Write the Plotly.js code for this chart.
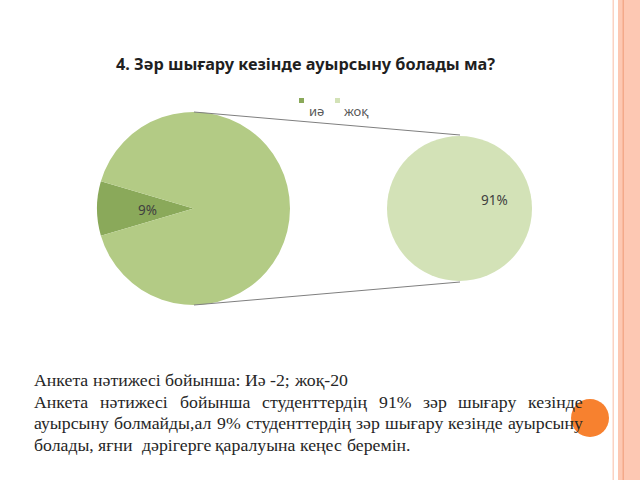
<!DOCTYPE html>
<html>
<head>
<meta charset="utf-8">
<script src="https://cdn.plot.ly/plotly-3.0.1.min.js"></script>
<style>
  html, body { margin: 0; padding: 0; background: #ffffff; }
  #chart { width: 640px; height: 480px; }
</style>
</head>
<body>
<div id="chart"></div>
<script>
// ---- data ----
const categories = ['иә', 'жоқ'];
const counts = [2, 20];
const titleText = '4. Зәр шығару кезінде ауырсыну болады ма?';
const paragraphLines = [
  'Анкета нәтижесі бойынша: Иә -2; жоқ-20',
  'Анкета нәтижесі бойынша студенттердің 91% зәр шығару кезінде',
  'ауырсыну болмайды,ал 9% студенттердің зәр шығару кезінде ауырсыну',
  'болады, яғни  дәрігерге қаралуына кеңес беремін.'
];
const justified = [false, true, true, false];

// ---- styling ----
const colYes = '#8aa95a';
const colNoBig = '#b3cb85';
const colNoSmall = '#d3e2b7';
const W = 640, H = 480;
const px = v => v / W;
const py = v => 1 - v / H;

const total = counts.reduce((a, b) => a + b, 0);
const pct = counts.map(c => Math.round(100 * c / total) + '%');
const yesAngle = 360 * counts[0] / total;

const bigPie = {
  type: 'pie',
  values: counts,
  labels: categories,
  sort: false,
  direction: 'clockwise',
  rotation: 270 - yesAngle / 2,
  marker: { colors: [colYes, colNoBig], line: { width: 0 } },
  textinfo: 'none',
  hoverinfo: 'label+percent',
  showlegend: false,
  domain: { x: [px(97), px(290)], y: [py(305), py(112)] }
};
const smallPie = {
  type: 'pie',
  values: [counts[1]],
  labels: [categories[1]],
  sort: false,
  marker: { colors: [colNoSmall], line: { width: 0 } },
  textinfo: 'none',
  hoverinfo: 'label',
  showlegend: false,
  domain: { x: [px(387), px(532)], y: [py(282), py(135)] }
};

// measure text for paragraph layout
const cv = document.createElement('canvas');
const ctx = cv.getContext('2d');
const paraFamily = "'Liberation Serif', 'Times New Roman', serif";
let paraSize = 16.5;
ctx.font = paraSize + 'px ' + paraFamily;
const l1w = ctx.measureText(paragraphLines[0]).width;
paraSize = Math.max(14, Math.min(18, paraSize * 313 / l1w));
ctx.font = paraSize + 'px ' + paraFamily;
const spaceW = ctx.measureText(' ').width;

const annotations = [];
const left = 32, right = 581;
const lineY = [380, 402, 423, 445];
paragraphLines.forEach((line, i) => {
  const words = line.split(' ');
  const widths = words.map(w => ctx.measureText(w).width);
  let gap = spaceW;
  if (justified[i]) {
    const sum = widths.reduce((a, b) => a + b, 0);
    gap = (right - left - sum) / (words.length - 1);
  }
  let x = left;
  words.forEach((w, k) => {
    if (w.length) {
      annotations.push({
        xref: 'x', yref: 'y', x: x, y: lineY[i], text: w, showarrow: false,
        xanchor: 'left', yanchor: 'middle',
        font: { family: paraFamily, size: paraSize, color: '#262626' }
      });
    }
    x += widths[k] + gap;
  });
});

// title
annotations.push({
  xref: 'x', yref: 'y', x: 305, y: 64, text: '<b>' + titleText + '</b>', showarrow: false,
  xanchor: 'center', yanchor: 'middle',
  font: { family: "'Noto Sans', sans-serif", size: 16.3, color: '#1f1f1f' }
});
// pie labels
annotations.push({
  xref: 'x', yref: 'y', x: 147, y: 210, text: pct[0], showarrow: false,
  font: { family: "'Noto Sans', sans-serif", size: 13.5, color: '#404040' }
});
annotations.push({
  xref: 'x', yref: 'y', x: 494, y: 200, text: pct[1], showarrow: false,
  font: { family: "'Noto Sans', sans-serif", size: 13.5, color: '#404040' }
});
// legend texts
annotations.push({
  xref: 'x', yref: 'y', x: 307, y: 111, text: categories[0], showarrow: false,
  xanchor: 'left', yanchor: 'middle',
  font: { family: "'Noto Sans', sans-serif", size: 13, color: '#595959' }
});
annotations.push({
  xref: 'x', yref: 'y', x: 342, y: 111, text: categories[1], showarrow: false,
  xanchor: 'left', yanchor: 'middle',
  font: { family: "'Noto Sans', sans-serif", size: 13, color: '#595959' }
});

const shapes = [
  // legend swatches
  { type: 'rect', xref: 'x', yref: 'y', x0: 299, x1: 304, y0: 98, y1: 103, fillcolor: colYes, line: { width: 0 } },
  { type: 'rect', xref: 'x', yref: 'y', x0: 335, x1: 340, y0: 98, y1: 103, fillcolor: colNoSmall, line: { width: 0 } },
  // connector lines
  { type: 'line', xref: 'x', yref: 'y', x0: 194, y0: 112, x1: 460, y1: 135, line: { color: '#7f7f7f', width: 1 } },
  { type: 'line', xref: 'x', yref: 'y', x0: 194, y0: 305, x1: 460, y1: 282, line: { color: '#7f7f7f', width: 1 } },
  // slide decoration: right stripes
  { type: 'rect', xref: 'x', yref: 'y', x0: 612.5, x1: 614, y0: 0, y1: 480, fillcolor: '#fbd2c2', line: { width: 0 }, layer: 'below' },
  { type: 'rect', xref: 'x', yref: 'y', x0: 618, x1: 640, y0: 0, y1: 480, fillcolor: '#fdc8b3', line: { width: 0 }, layer: 'below' },
  { type: 'rect', xref: 'x', yref: 'y', x0: 622.5, x1: 624, y0: 0, y1: 480, fillcolor: '#f4a98a', line: { width: 0 }, layer: 'below' },
  // orange circle
  { type: 'circle', xref: 'x', yref: 'y', x0: 571, x1: 609, y0: 399, y1: 437, fillcolor: '#f7812f', line: { width: 0 } }
];

const layout = {
  width: W, height: H,
  margin: { l: 0, r: 0, t: 0, b: 0 },
  paper_bgcolor: '#ffffff', plot_bgcolor: 'rgba(0,0,0,0)',
  showlegend: false,
  xaxis: { range: [0, W], visible: false, fixedrange: true },
  yaxis: { range: [H, 0], visible: false, fixedrange: true },
  annotations: annotations,
  shapes: shapes
};

Plotly.newPlot('chart', [bigPie, smallPie], layout, { displayModeBar: false, staticPlot: true });
</script>
</body>
</html>
